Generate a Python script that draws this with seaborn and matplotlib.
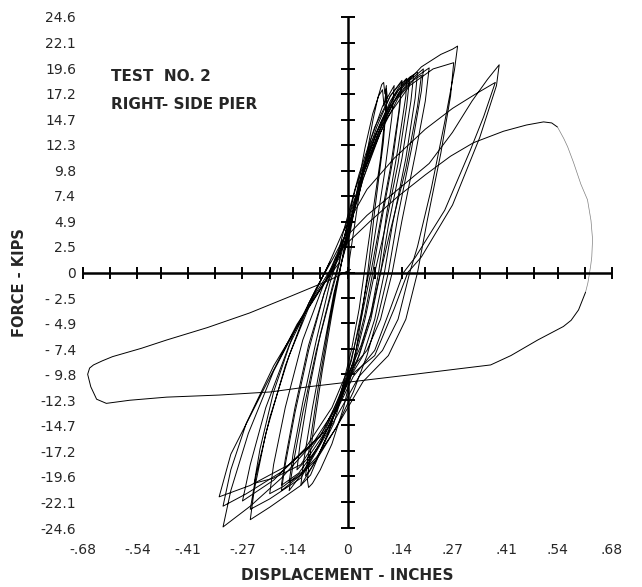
import matplotlib
matplotlib.use("Agg")
import matplotlib.pyplot as plt
import seaborn as sns
import numpy as np

# ---- axis scales ----
x_major = [-0.68, -0.54, -0.41, -0.27, -0.14, 0.0, 0.14, 0.27, 0.41, 0.54, 0.68]
x_major_labels = ["-.68", "-.54", "-.41", "-.27", "-.14", "0", ".14", ".27", ".41", ".54", ".68"]
x_minor = [-0.61, -0.48, -0.34, -0.20, -0.07, 0.07, 0.20, 0.34, 0.48, 0.61]
y_ticks = [24.6, 22.1, 19.6, 17.2, 14.7, 12.3, 9.8, 7.4, 4.9, 2.5, 0.0,
           -2.5, -4.9, -7.4, -9.8, -12.3, -14.7, -17.2, -19.6, -22.1, -24.6]
y_labels = ["24.6", "22.1", "19.6", "17.2", "14.7", "12.3", "9.8", "7.4", "4.9", "2.5", "0",
            "- 2.5", "- 4.9", "- 7.4", "- 9.8", "-12.3", "-14.7", "-17.2", "-19.6", "-22.1", "-24.6"]

# ---- hysteresis trace (inches, kips) ----
# early small cycles (peaks around +-0.1 to 0.2 in)
early_disp = [0.000, 0.010, 0.030, 0.050, 0.066, 0.078, 0.088, 0.093, 0.096, 0.100, 0.098, 0.085, 0.062, 0.045,
              0.030, 0.010, -0.020, -0.050, -0.080, -0.100, -0.108, -0.095, -0.075, -0.050, -0.030, -0.015,
              0.000, 0.020, 0.045, 0.065, 0.080, 0.090, 0.094, 0.100, 0.102, 0.092, 0.070, 0.052,
              0.035, 0.015, -0.010, -0.040, -0.070, -0.090, -0.100, -0.103, -0.098, -0.085, -0.065, -0.040, -0.020, -0.008,
              0.015, 0.045, 0.080, 0.110, 0.135, 0.152, 0.150, 0.130, 0.100, 0.080,
              0.060, 0.035, 0.000, -0.035, -0.080, -0.120, -0.150, -0.140, -0.115, -0.080, -0.045, -0.020,
              0.005, 0.030, 0.060, 0.090, 0.120, 0.114, 0.095, 0.070, 0.055,
              0.035, 0.010, -0.025, -0.065, -0.105, -0.130, -0.122, -0.100, -0.070, -0.040, -0.018,
              0.000, 0.035, 0.075, 0.120, 0.150, 0.170, 0.163, 0.140, 0.105, 0.085,
              0.060, 0.030, -0.010, -0.050, -0.095, -0.120, -0.112, -0.090, -0.060, -0.035, -0.015,
              0.010, 0.040, 0.075, 0.110, 0.140, 0.134, 0.115, 0.085, 0.065,
              0.045, 0.015, -0.020, -0.070, -0.125, -0.170, -0.160, -0.135, -0.100, -0.060, -0.030,
              0.000, 0.040, 0.085, 0.130, 0.160, 0.180, 0.174, 0.150, 0.115, 0.095,
              0.070, 0.040, 0.000, -0.050, -0.110, -0.165, -0.200, -0.190, -0.160, -0.115, -0.065, -0.030]
early_force = [0.0, 2.5, 7.5, 11.5, 14.8, 16.8, 18.1, 18.3, 17.2, 18.0, 15.5, 11.0, 5.0, 0.5,
               -3.5, -7.5, -12.0, -15.5, -18.0, -19.2, -19.6, -16.0, -11.0, -5.5, -1.5, 1.0,
               3.0, 7.0, 12.0, 15.3, 17.0, 17.6, 16.0, 17.7, 17.0, 12.5, 6.0, 0.0,
               -4.5, -9.0, -13.0, -16.5, -19.0, -20.3, -20.7, -20.0, -18.0, -14.5, -9.5, -4.0, 0.0, 2.5,
               6.0, 10.5, 14.0, 16.5, 18.0, 18.7, 17.0, 12.0, 5.5, 0.0,
               -4.0, -7.0, -10.0, -14.5, -18.0, -19.5, -20.2, -17.5, -12.5, -6.5, -1.0, 2.0,
               3.5, 8.5, 12.8, 16.0, 18.0, 15.0, 9.5, 3.5, 0.0,
               -4.0, -8.5, -12.5, -15.8, -18.0, -19.0, -16.5, -11.5, -6.0, -1.5, 1.5,
               4.0, 9.0, 13.5, 17.0, 18.5, 19.0, 16.5, 11.0, 4.5, 0.0,
               -4.5, -8.0, -11.0, -15.5, -19.5, -20.5, -18.0, -13.0, -7.0, -2.0, 1.0,
               5.0, 10.0, 14.0, 17.0, 18.5, 15.8, 10.5, 4.5, 0.0,
               -4.0, -8.5, -12.5, -16.5, -19.3, -20.5, -18.0, -13.0, -7.0, -2.0, 1.0,
               3.5, 9.0, 13.8, 17.2, 18.8, 19.3, 16.8, 11.0, 4.5, 0.0,
               -4.5, -8.0, -10.5, -15.0, -19.0, -20.6, -21.3, -18.5, -13.0, -6.5, -1.5, 1.5]

# middle cycles (peaks 0.16 - 0.28 in)
mid_disp = [0.010, 0.040, 0.080, 0.120, 0.160, 0.195, 0.190, 0.165, 0.130, 0.105,
            0.080, 0.050, 0.015, -0.030, -0.080, -0.130, -0.170, -0.160, -0.135, -0.100, -0.060, -0.030,
            0.005, 0.040, 0.085, 0.130, 0.175, 0.210, 0.200, 0.175, 0.140, 0.115,
            0.085, 0.050, 0.005, -0.050, -0.120, -0.190, -0.240, -0.225, -0.190, -0.140, -0.080, -0.035,
            0.000, 0.040, 0.090, 0.140, 0.190, 0.240, 0.270, 0.283, 0.275, 0.250, 0.215, 0.180, 0.160,
            0.130, 0.090, 0.030, -0.030, -0.120, -0.200, -0.250, -0.235, -0.200, -0.150, -0.090, -0.040,
            -0.005, 0.045, 0.100, 0.160, 0.220, 0.273, 0.265, 0.240, 0.205, 0.180,
            0.150, 0.105, 0.040, -0.030, -0.120, -0.200, -0.250, -0.240, -0.210, -0.160, -0.100, -0.045]
mid_force = [5.0, 9.5, 13.5, 16.5, 18.5, 19.6, 17.5, 12.0, 5.5, 0.0,
             -4.0, -8.0, -11.5, -15.0, -17.8, -19.8, -21.0, -18.5, -13.5, -7.5, -2.0, 1.5,
             4.5, 9.0, 13.5, 16.8, 18.8, 19.7, 16.5, 11.5, 5.0, 0.0,
             -4.5, -7.5, -9.5, -14.5, -18.5, -19.8, -20.3, -17.0, -11.5, -6.0, -1.5, 1.5,
             4.0, 9.5, 14.5, 17.8, 19.8, 21.0, 21.5, 21.8, 19.5, 14.5, 8.0, 2.5, 0.0,
             -4.5, -7.5, -10.0, -14.0, -19.8, -21.8, -22.8, -19.5, -14.0, -8.0, -2.5, 1.5,
             4.5, 10.0, 14.8, 18.0, 19.6, 20.2, 17.0, 11.5, 5.0, 0.0,
             -4.5, -8.0, -10.5, -15.0, -20.5, -22.6, -23.8, -21.0, -15.5, -9.0, -3.0, 1.0]

# large cycles (peaks near 0.39 in) and the small cycles after them
large_disp = [-0.010, 0.050, 0.120, 0.200, 0.270, 0.330, 0.380, 0.350, 0.316, 0.250, 0.175, 0.144,
              0.110, 0.070, 0.015, -0.050, -0.150, -0.250, -0.330, -0.300, -0.216, -0.130, -0.060, -0.020,
              -0.015, 0.050, 0.130, 0.210, 0.270, 0.320, 0.360, 0.390, 0.383, 0.340, 0.270, 0.190, 0.155,
              0.120, 0.070, 0.005, -0.070, -0.170, -0.260, -0.320, -0.300, -0.260, -0.190, -0.110, -0.050, -0.020,
              0.020, 0.060, 0.110, 0.160, 0.190, 0.180, 0.150, 0.110, 0.085,
              0.060, 0.025, -0.020, -0.090, -0.170, -0.250, -0.320, -0.300, -0.255, -0.190, -0.120, -0.060, -0.030,
              -0.010, 0.030, 0.070, 0.110, 0.140, 0.132, 0.110, 0.080, 0.060,
              0.035, 0.005, -0.040, -0.110, -0.190, -0.270, -0.250, -0.210, -0.150, -0.090, -0.040, -0.015,
              0.015, 0.050, 0.090, 0.130, 0.160, 0.152, 0.130, 0.095, 0.070,
              0.045, 0.015, -0.025, -0.075, -0.120, -0.150, -0.140, -0.115, -0.080, -0.045, -0.020]
large_force = [4.0, 8.0, 11.0, 13.8, 15.8, 17.2, 18.3, 15.0, 11.8, 6.0, 1.5, 0.0,
               -3.5, -7.5, -10.0, -15.0, -18.5, -20.5, -21.6, -17.5, -11.3, -5.0, -1.0, 1.0,
               3.0, 5.5, 8.0, 10.5, 13.5, 16.5, 18.6, 20.0, 18.0, 13.0, 6.5, 1.5, 0.0,
               -3.5, -8.0, -10.0, -15.8, -19.2, -21.3, -22.5, -19.0, -14.5, -9.0, -4.0, -0.5, 1.5,
               8.0, 12.5, 16.0, 18.3, 19.0, 16.0, 10.0, 4.0, 0.0,
               -4.0, -8.5, -12.5, -16.5, -19.8, -22.5, -24.5, -21.0, -15.5, -9.5, -4.5, -1.0, 1.0,
               4.0, 9.5, 14.0, 17.0, 18.4, 15.5, 10.0, 4.0, 0.0,
               -4.5, -9.0, -13.0, -17.0, -20.0, -22.0, -18.5, -13.0, -7.0, -2.5, 0.5, 2.5,
               6.5, 11.0, 14.8, 17.5, 18.8, 16.0, 10.5, 4.0, 0.0,
               -4.5, -9.0, -13.0, -16.8, -19.5, -21.0, -18.5, -13.5, -7.5, -2.5, 1.0]

# final large excursion
final_disp = [-0.010, 0.060, 0.129, 0.200, 0.265, 0.324, 0.401, 0.460, 0.504, 0.525, 0.540]
final_force = [2.5, 5.0, 7.3, 9.4, 11.2, 12.5, 13.6, 14.2, 14.5, 14.4, 14.0]
# faint part of the pen trace on the right
faint_disp = [0.540, 0.556, 0.566, 0.581, 0.600, 0.617, 0.626, 0.630, 0.628, 0.625, 0.618, 0.612]
faint_force = [14.0, 12.9, 12.1, 10.6, 8.5, 7.0, 5.0, 3.2, 1.5, 0.6, -1.0, -1.9]
return_disp = [0.612, 0.594, 0.575, 0.555, 0.489, 0.420, 0.368, 0.280, 0.150, 0.015, -0.100, -0.198,
               -0.330, -0.465, -0.560, -0.620, -0.645, -0.660, -0.668, -0.663, -0.653, -0.630, -0.604,
               -0.530, -0.465, -0.360, -0.252, -0.147, -0.044, 0.008]
return_force = [-1.9, -3.6, -4.6, -5.2, -6.5, -8.0, -8.9, -9.3, -9.9, -10.5, -11.0, -11.5,
                -11.8, -12.0, -12.3, -12.6, -12.2, -11.0, -9.8, -9.2, -8.9, -8.5, -8.1,
                -7.3, -6.5, -5.3, -3.9, -2.3, -0.7, 0.3]

sns.set_style("white")
plt.rcParams['font.family'] = ['DejaVu Sans']

fig = plt.figure(figsize=(6.42, 5.87), dpi=100)
ax = fig.add_axes([83 / 642, 59 / 587, 529 / 642, 511 / 587])

trace_kw = dict(sort=False, estimator=None, color="black", linewidth=0.7, ax=ax)
sns.lineplot(x=early_disp, y=early_force, **trace_kw)
sns.lineplot(x=mid_disp, y=mid_force, **trace_kw)
sns.lineplot(x=large_disp, y=large_force, **trace_kw)
sns.lineplot(x=final_disp, y=final_force, **trace_kw)
sns.lineplot(x=faint_disp, y=faint_force, sort=False, estimator=None, color="0.5", linewidth=0.5, ax=ax)
sns.lineplot(x=return_disp, y=return_force, **trace_kw)

# cross-shaped axes through the origin with tick marks
ax.axhline(0, color="black", lw=1.8, xmin=0, xmax=1)
ax.axvline(0, color="black", lw=1.8, ymin=0, ymax=1)
ax.plot(x_major + x_minor, [0] * (len(x_major) + len(x_minor)), ls="none", marker="|",
        ms=8.5, mew=1.4, color="black", clip_on=False)
ax.plot([0] * len(y_ticks), y_ticks, ls="none", marker="_", ms=10, mew=1.4, color="black", clip_on=False)

ax.set_xlim(-0.68, 0.68)
ax.set_ylim(-24.6, 24.6)
ax.set_xticks(x_major, x_major_labels)
ax.set_yticks(y_ticks, y_labels)
ax.tick_params(axis="both", length=0, labelsize=10)
ax.tick_params(axis="x", pad=11)
ax.tick_params(axis="y", pad=5)
for s in ax.spines.values():
    s.set_visible(False)

ax.set_xlabel("DISPLACEMENT - INCHES", fontsize=11, fontweight="bold", labelpad=8)
ax.set_ylabel("FORCE - KIPS", fontsize=10.5, fontweight="bold")
ax.yaxis.set_label_coords(-0.105, 0.48)

ax.text(-0.609, 18.9, "TEST  NO. 2", fontsize=11, fontweight="bold", va="center", ha="left")
ax.text(-0.609, 16.2, "RIGHT- SIDE PIER", fontsize=11, fontweight="bold", va="center", ha="left")

fig.savefig("out.png", dpi=100)
